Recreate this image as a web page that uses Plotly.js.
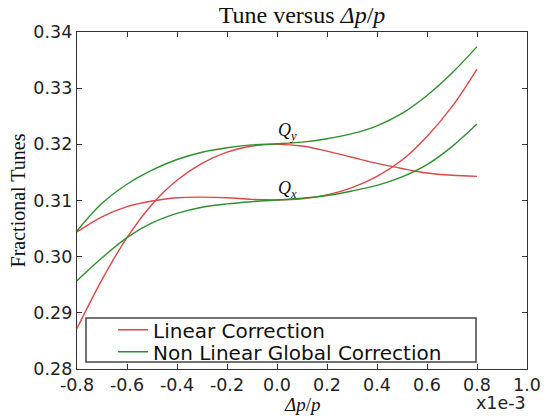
<!DOCTYPE html>
<html>
<head>
<meta charset="utf-8">
<script src="https://cdn.plot.ly/plotly-3.0.1.min.js"></script>
<style>html,body{margin:0;padding:0;background:#fff;}#chart{width:558px;height:418px;}</style>
</head>
<body>
<div id="chart"></div>
<script>
// Δp/p in units of 1e-3
const dpp = [-0.8,-0.7,-0.6,-0.5,-0.4,-0.3,-0.2,-0.1,0.0,0.1,0.2,0.3,0.4,0.5,0.6,0.7,0.8];
// Linear correction
const linQy = [0.2872,0.2959,0.3034,0.3093,0.3136,0.3166,0.3186,0.3197,0.3200,0.3197,0.3188,0.3177,0.3166,0.3157,0.3149,0.3145,0.3143];
const linQx = [0.3044,0.3071,0.3089,0.3099,0.3105,0.3106,0.3105,0.3102,0.3101,0.3103,0.3110,0.3123,0.3143,0.3172,0.3214,0.3267,0.3334];
// Non linear global correction
const nlQy = [0.3046,0.3095,0.3129,0.3154,0.3173,0.3186,0.3194,0.3199,0.3201,0.3204,0.3210,0.3219,0.3233,0.3255,0.3287,0.3327,0.3374];
const nlQx = [0.2957,0.2998,0.3034,0.3060,0.3077,0.3088,0.3094,0.3098,0.3101,0.3104,0.3109,0.3117,0.3127,0.3142,0.3164,0.3196,0.3236];

const xTicks = [-0.8,-0.6,-0.4,-0.2,0.0,0.2,0.4,0.6,0.8,1.0];
const yTicks = [0.28,0.29,0.30,0.31,0.32,0.33,0.34];
const seriesNames = ['Linear Correction','Non Linear Global Correction'];

const RED = '#e04646';
const GREEN = '#2f8f2f';
const tickFont = {family:'DejaVu Sans', size:17.5, color:'#222'};
const legFont = {family:'DejaVu Sans', size:20, color:'#111'};
const serif = 'Liberation Serif, DejaVu Serif, serif';

const traces = [
  {x:dpp, y:linQy, mode:'lines', name:seriesNames[0], legend:'legend', line:{color:RED,width:1.4,shape:'spline'}},
  {x:dpp, y:linQx, mode:'lines', name:seriesNames[0], showlegend:false, line:{color:RED,width:1.4,shape:'spline'}},
  {x:dpp, y:nlQy, mode:'lines', name:seriesNames[1], legend:'legend2', line:{color:GREEN,width:1.4,shape:'spline'}},
  {x:dpp, y:nlQx, mode:'lines', name:seriesNames[1], showlegend:false, line:{color:GREEN,width:1.4,shape:'spline'}}
];

const legendBase = {xanchor:'left', yanchor:'middle', bgcolor:'rgba(0,0,0,0)', borderwidth:0, font:legFont, itemwidth:30};

const layout = {
  width:558, height:418,
  margin:{l:77, r:31, t:32, b:49, pad:0},
  paper_bgcolor:'#fff', plot_bgcolor:'#fff',
  showlegend:true,
  title:{text:'Tune versus <i>Δp</i>/<i>p</i>', font:{family:serif, size:24, color:'#111'}, x:0.5413, xanchor:'center', y:0.966, yanchor:'middle'},
  xaxis:{
    range:[-0.8,1.0], tickvals:xTicks, ticktext:xTicks.map(v=>v.toFixed(1)),
    ticks:'inside', ticklen:5, tickcolor:'#333', showline:true, linecolor:'#333', linewidth:1.2, mirror:'ticks',
    showgrid:false, zeroline:false, tickfont:tickFont, automargin:false
  },
  yaxis:{
    range:[0.28,0.34], tickvals:yTicks, ticktext:yTicks.map(v=>v.toFixed(2)),
    ticks:'inside', ticklen:5, tickcolor:'#333', showline:true, linecolor:'#333', linewidth:1.2, mirror:'ticks',
    showgrid:false, zeroline:false, tickfont:tickFont, automargin:false,
    title:{text:'Fractional Tunes', font:{family:serif, size:20, color:'#111'}, standoff:2}
  },
  legend:Object.assign({x:0.08, y:0.1166}, legendBase),
  legend2:Object.assign({x:0.08, y:0.0513}, legendBase),
  shapes:[
    {type:'rect', xref:'paper', yref:'paper', x0:0.02, x1:0.8867, y0:0.0208, y1:0.1513,
     line:{color:'#444', width:1.5}, fillcolor:'rgba(255,255,255,0.9)', layer:'below'}
  ],
  annotations:[
    {text:'<i>Δp</i>/<i>p</i>', x:0.5, xref:'paper', xanchor:'center', y:-0.104, yref:'paper', yanchor:'middle', showarrow:false, font:{family:serif, size:19, color:'#111'}},
    {text:'<i>Q</i><sub><i>y</i></sub>', x:0.04, y:0.3222, xref:'x', yref:'y', showarrow:false, font:{family:serif, size:18, color:'#111'}},
    {text:'<i>Q</i><sub><i>x</i></sub>', x:0.04, y:0.3119, xref:'x', yref:'y', showarrow:false, font:{family:serif, size:18, color:'#111'}},
    {text:'x1e-3', x:1.003, xref:'paper', xanchor:'right', y:-0.1, yref:'paper', yanchor:'middle', showarrow:false, font:tickFont}
  ]
};

Plotly.newPlot('chart', traces, layout, {displayModeBar:false, staticPlot:true});
</script>
</body>
</html>
